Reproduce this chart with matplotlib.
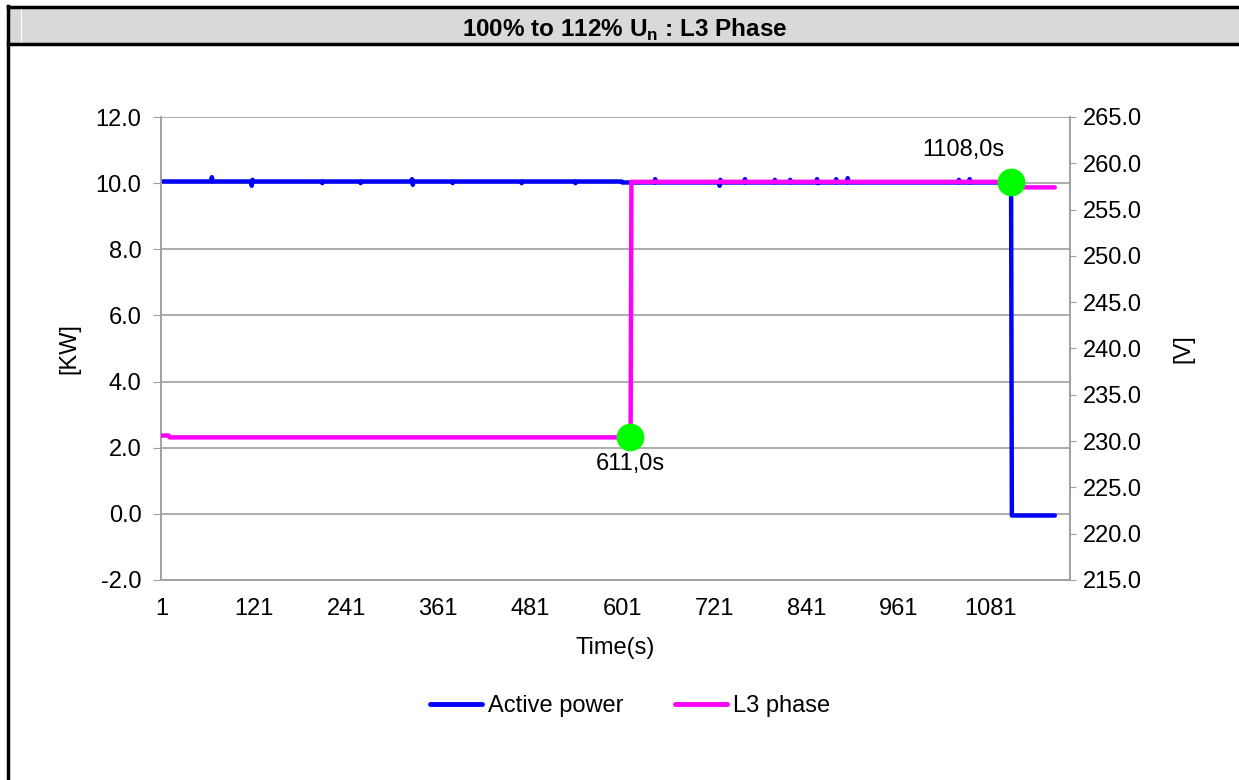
import matplotlib.pyplot as plt
import numpy as np
from matplotlib.patches import Rectangle
from matplotlib.lines import Line2D

plt.rcParams['font.family'] = ['Liberation Sans', 'DejaVu Sans']

# sample index (1 s steps)
n_samples = 1165

# active power [kW]: constant levels (first idx, last idx, value)
power_levels = [(1, 600, 10.05), (601, 1108, 10.02), (1109, 1165, -0.05)]
# short blips on the power trace (idx, value)
power_blips_idx = [66, 118, 119, 210, 260, 327, 328, 380, 470, 540, 644, 728, 729, 761, 800, 820, 855, 856, 880, 895, 1040, 1054]
power_blips_val = [10.18, 9.92, 10.1, 10.0, 10.0, 10.12, 9.95, 10.0, 10.0, 10.0, 10.12, 9.92, 10.1, 10.12, 10.1, 10.1, 10.12, 10.0, 10.12, 10.15, 10.1, 10.12]

# L3 phase voltage [V]: constant levels (first idx, last idx, value)
volt_levels = [(1, 10, 230.6), (11, 611, 230.4), (612, 612, 232.0), (613, 1108, 258.0), (1109, 1165, 257.4)]

# trip points
trip_t = [611, 1108]
trip_v = [230.4, 258.0]
trip_labels = ['611,0s', '1108,0s']

xtick_vals = [1, 121, 241, 361, 481, 601, 721, 841, 961, 1081]

t = np.arange(1, n_samples + 1)
power = np.zeros(n_samples)
for a, b, v in power_levels:
    power[a - 1:b] = v
for i, v in zip(power_blips_idx, power_blips_val):
    power[i - 1] = v
volt = np.zeros(n_samples)
for a, b, v in volt_levels:
    volt[a - 1:b] = v

FS = 17
fig = plt.figure(figsize=(12.39, 7.80), dpi=100)
W, H = 1239, 780

# frame and title bar
fig.patches.append(Rectangle((8 / W, 1 - 44 / H), 1, 36 / H, transform=fig.transFigure,
                             facecolor='#d9d9d9', edgecolor='none', zorder=0))
fig.add_artist(Line2D([21 / W, 21 / W], [1 - 43 / H, 1 - 9 / H], color='white', lw=0.8))
fig.add_artist(Line2D([8 / W, 1], [1 - 7 / H, 1 - 7 / H], color='black', lw=2.5))
fig.add_artist(Line2D([8 / W, 1], [1 - 44 / H, 1 - 44 / H], color='black', lw=2.5))
fig.add_artist(Line2D([8 / W, 8 / W], [0, 1 - 6 / H], color='black', lw=2.5))
fig.text(625 / W, 1 - 30 / H, r'100% to 112% U$_\mathregular{n}$ : L3 Phase', ha='center', va='center',
         fontsize=17.5, fontweight='bold')

ax1 = fig.add_axes([161 / W, 1 - 580 / H, 909 / W, 463 / H])
ax2 = ax1.twinx()

ax1.plot(t, power, color='#0000ff', lw=3.2, zorder=2, solid_capstyle='round')
ax2.plot(t, volt, color='#ff00ff', lw=3.2, zorder=3, solid_capstyle='round')
ax2.plot(trip_t[0], trip_v[0], 'o', color='#00ff00', ms=19, zorder=5)
ax2.plot(trip_t[1], trip_v[1], 'o', color='#00ff00', ms=19, zorder=5)
ax2.text(trip_t[0], trip_v[0] - 1.7, trip_labels[0], ha='center', va='top', fontsize=FS)
ax2.text(trip_t[1] - 62, trip_v[1] + 2.2, trip_labels[1], ha='center', va='bottom', fontsize=FS)

ax1.set_xlim(-0.3, 1184.8)
ax1.set_ylim(-2, 12)
ax2.set_ylim(215, 265)
ax1.set_yticks(np.arange(-2, 12.1, 2))
ax1.set_yticklabels([f'{v:.1f}' for v in np.arange(-2, 12.1, 2)])
ax2.set_yticks(np.arange(215, 265.1, 5))
ax2.set_yticklabels([f'{v:.1f}' for v in np.arange(215, 265.1, 5)])
ax1.set_xticks(xtick_vals)
ax1.set_xticklabels([str(v) for v in xtick_vals])

ax1.grid(axis='y', color='#a0a0a0', lw=1.2)
ax1.set_axisbelow(True)
for ax in (ax1, ax2):
    ax.spines['top'].set_visible(False)
    for s in ('left', 'right', 'bottom'):
        ax.spines[s].set_color('#a0a0a0')
        ax.spines[s].set_linewidth(1.2)
ax1.tick_params(axis='y', length=6, color='#a0a0a0', labelsize=FS, pad=8)
ax1.tick_params(axis='x', length=0, labelsize=FS, pad=13)
ax2.tick_params(axis='y', length=4, color='#a0a0a0', labelsize=FS, pad=5)

ax1.set_xlabel('Time(s)', fontsize=FS, labelpad=12)
ax1.set_ylabel('[KW]', fontsize=FS, labelpad=11)
ax2.set_ylabel('[V]', fontsize=FS, labelpad=22)

handles = [Line2D([], [], color='#0000ff', lw=3.5, solid_capstyle='round'),
           Line2D([], [], color='#ff00ff', lw=3.5, solid_capstyle='round')]
fig.legend(handles, ['Active power', 'L3 phase'], loc='center', bbox_to_anchor=(630 / W, 1 - 706 / H),
           ncol=2, frameon=False, fontsize=FS, handlelength=2.2, handletextpad=0.25, columnspacing=2.2)

fig.savefig('out.png', dpi=100)
